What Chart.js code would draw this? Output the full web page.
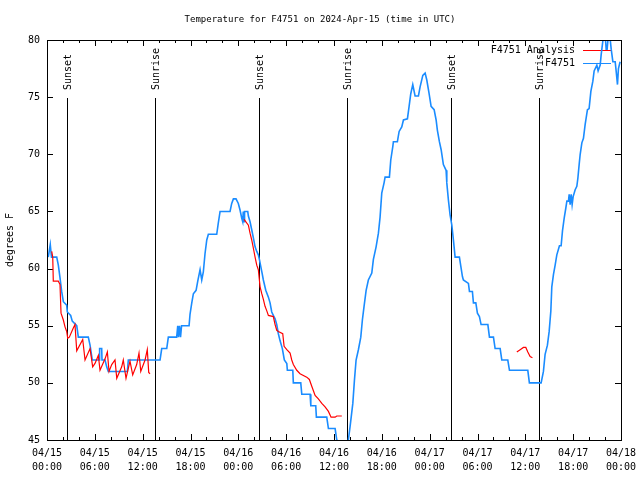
<!DOCTYPE html>
<html>
<head>
<meta charset="utf-8">
<script src="https://cdn.jsdelivr.net/npm/chart.js@4.4.1/dist/chart.umd.min.js"></script>
<style>
  html, body { margin: 0; padding: 0; background: #fff; }
  #chart { display: block; }
</style>
</head>
<body>
<canvas id="chart" width="640" height="480"></canvas>
<script>
// hours since 04/15 00:00 UTC, temperature in degrees F
const obsHours = [0.16,0.41,0.56,1.22,1.42,1.63,1.84,2.05,2.47,2.55,2.97,3.17,3.73,3.93,5.18,5.40,5.68,6.56,6.60,6.86,6.90,7.28,7.49,7.69,10.08,10.20,
  14.18,14.39,15.02,15.22,16.27,16.40,16.50,16.62,16.75,16.88,17.82,17.94,18.16,18.36,18.70,18.91,19.20,19.41,19.61,19.82,20.04,20.24,21.29,21.49,21.71,
  22.96,23.17,23.38,23.71,24.00,24.22,24.43,24.55,24.62,24.72,24.78,25.18,25.26,25.47,25.68,25.88,26.10,26.31,26.51,26.64,26.81,26.98,27.14,27.44,27.77,
  27.98,28.19,28.39,28.61,28.82,29.02,29.23,29.52,29.77,30.08,30.15,30.83,30.90,31.83,31.96,33.00,33.09,33.71,33.79,35.09,35.30,36.14,36.35,36.76,37.39,
  37.80,38.02,38.36,38.56,38.77,39.06,39.36,39.56,39.77,40.03,40.31,40.74,40.94,41.28,41.57,41.78,41.99,42.28,42.41,42.95,43.12,43.38,43.45,43.95,44.17,
  44.50,44.71,45.21,45.42,45.63,45.88,46.17,46.59,46.80,47.14,47.43,47.64,47.93,48.18,48.56,48.81,48.97,49.22,49.44,49.72,50.06,50.15,50.35,50.56,50.78,
  50.98,51.19,51.73,51.91,52.11,52.23,52.86,52.99,53.36,53.49,53.79,53.99,54.24,54.45,55.30,55.50,56.00,56.21,56.84,57.05,57.80,58.01,60.31,60.51,61.98,
  62.27,62.48,62.77,62.99,63.20,63.32,63.53,63.74,63.95,64.28,64.49,64.66,64.87,65.08,65.21,65.41,65.50,65.62,65.75,65.87,66.00,66.25,66.46,66.59,66.75,
  66.88,67.09,67.29,67.50,67.79,68.00,68.22,68.47,68.63,68.97,69.13,69.39,69.51,69.72,69.82,70.01,70.14,70.26,70.43,70.58,70.77,70.98,71.27,71.39,71.56,
  71.68,71.89];
const obsTemps = [61.0,62.1,61.0,61.0,60.3,59.2,58.0,57.1,56.8,56.2,55.9,55.4,55.0,54.0,54.0,53.3,52.0,52.0,53.0,53.0,52.0,52.0,51.4,51.0,51.0,52.0,
  52.0,53.0,53.0,54.0,54.0,55.0,54.0,55.0,54.0,55.0,55.0,56.0,57.0,57.8,58.1,58.9,59.9,59.0,59.7,61.3,62.5,63.0,63.0,64.0,65.0,
  65.0,65.7,66.1,66.1,65.7,65.1,64.4,64.1,65.0,64.1,65.0,65.0,64.6,64.1,63.4,62.7,61.9,61.5,61.2,60.8,60.2,59.6,59.0,58.1,57.5,
  57.0,56.2,55.9,55.6,55.1,54.3,53.7,53.0,52.0,51.7,51.1,51.1,50.0,50.0,49.0,49.0,48.0,48.0,47.0,47.0,46.0,46.0,45.0,44.0,44.0,
  45.0,46.2,48.2,50.2,52.0,52.9,54.0,55.5,56.7,58.1,59.0,59.6,60.8,61.9,63.1,64.5,66.6,67.5,68.0,68.0,69.5,70.7,71.1,71.1,72.0,
  72.4,73.0,73.1,74.2,75.3,76.1,75.1,75.1,75.9,76.9,77.1,76.5,75.3,74.2,73.9,73.0,72.1,71.1,70.4,69.1,68.6,67.5,66.0,64.7,63.8,
  62.5,61.0,61.0,60.2,59.3,59.0,58.7,58.0,58.0,57.0,57.0,56.1,55.8,55.1,55.1,54.0,54.0,53.0,53.0,52.0,52.0,51.1,51.1,50.0,50.0,
  51.0,52.5,53.3,54.5,56.3,58.4,59.5,60.3,61.2,62.0,62.0,63.3,64.4,65.3,65.9,65.9,66.5,65.6,66.5,65.6,66.3,66.9,67.2,67.9,69.1,
  70.0,71.0,71.4,72.6,73.9,74.0,75.5,76.4,77.3,77.8,77.3,77.8,78.7,79.9,80.5,80.5,79.2,79.2,80.5,80.5,79.2,78.1,78.1,77.3,76.1,
  77.5,78.1];

// analysis series, null marks a gap
const anaHours = [0.59,0.72,0.79,1.42,1.63,1.76,2.05,2.26,2.47,2.60,2.80,3.30,3.51,3.73,4.48,4.77,5.40,5.73,6.02,6.44,6.65,7.28,7.57,7.78,8.12,8.53,
  8.75,9.37,9.57,9.91,10.41,10.75,11.25,11.54,11.76,12.30,12.58,12.76,12.92,
  18.0,
  24.72,25.26,25.47,25.68,25.88,26.10,26.31,26.51,26.64,26.73,26.94,27.14,27.35,27.57,27.77,28.39,28.61,28.82,29.02,29.57,29.74,30.08,30.49,30.70,30.90,
  31.33,31.74,32.58,32.91,33.21,33.63,34.04,34.47,34.88,35.30,35.63,36.14,36.35,36.98,
  48.0,
  58.93,59.35,59.76,60.06,60.31,60.60,60.89];
const anaTemps = [61.5,61.0,58.9,58.9,58.6,56.1,55.5,54.9,54.5,53.9,54.0,54.8,55.1,52.8,53.8,52.0,53.0,51.4,51.7,52.4,51.1,52.1,52.7,51.0,51.6,52.0,
  50.4,51.4,52.0,50.4,51.9,50.7,51.6,52.6,51.0,52.0,52.9,50.9,50.8,
  null,
  64.3,63.8,63.1,62.5,61.8,61.0,60.3,59.9,59.0,58.4,57.8,57.3,56.7,56.3,55.9,55.8,55.1,54.6,54.5,54.3,53.2,52.9,52.6,52.0,51.6,
  51.1,50.8,50.5,50.3,49.7,48.9,48.6,48.2,47.9,47.5,47.0,47.0,47.1,47.1,
  null,
  52.7,52.9,53.1,53.1,52.7,52.3,52.2];

const sunHours = [2.5, 13.5, 26.6, 37.6, 50.7, 61.7];
const sunLabels = ['Sunset', 'Sunrise', 'Sunset', 'Sunrise', 'Sunset', 'Sunrise'];

const xDates = ['04/15','04/15','04/15','04/15','04/16','04/16','04/16','04/16','04/17','04/17','04/17','04/17','04/18'];
const xTimes = ['00:00','06:00','12:00','18:00','00:00','06:00','12:00','18:00','00:00','06:00','12:00','18:00','00:00'];

const TITLE = 'Temperature for F4751 on 2024-Apr-15 (time in UTC)';
const FONT = 'DejaVu Sans Mono';
const RED = '#ff0000';
const BLUE = '#1a8cff';

function pts(xs, ys) { return xs.map((x, i) => ({ x: x, y: ys[i] })); }

// gnuplot-like frame, inward ticks, sun lines, title and key
const gnuplotBits = {
  id: 'gnuplotBits',
  beforeDatasetsDraw(chart) {
    const { ctx, chartArea: a, scales: { x, y } } = chart;
    ctx.save();
    ctx.fillStyle = '#000';
    ctx.font = '9px "' + FONT + '"';
    ctx.textAlign = 'center';
    ctx.textBaseline = 'middle';
    ctx.fillText(TITLE, chart.width / 2, 20);

    ctx.strokeStyle = '#000';
    ctx.lineWidth = 1;
    ctx.beginPath();
    for (let h = 0; h <= 72; h += 2) {
      const px = Math.round(x.getPixelForValue(h)) + 0.5;
      const len = h % 6 === 0 ? 6 : 3;
      ctx.moveTo(px, a.bottom); ctx.lineTo(px, a.bottom - len);
      ctx.moveTo(px, a.top); ctx.lineTo(px, a.top + len);
    }
    for (let v = 45; v <= 80; v += 5) {
      const py = Math.round(y.getPixelForValue(v)) + 0.5;
      ctx.moveTo(a.left, py); ctx.lineTo(a.left + 6, py);
      ctx.moveTo(a.right, py); ctx.lineTo(a.right - 6, py);
    }
    ctx.stroke();

    ctx.font = '10px "' + FONT + '"';
    sunHours.forEach((h, i) => {
      const px = Math.round(x.getPixelForValue(h)) + 0.5;
      ctx.beginPath();
      ctx.moveTo(px, a.top + 58);
      ctx.lineTo(px, a.bottom);
      ctx.stroke();
      ctx.save();
      ctx.translate(px + 1, a.top + 50);
      ctx.rotate(-Math.PI / 2);
      ctx.textAlign = 'left';
      ctx.fillText(sunLabels[i], 0, 0);
      ctx.restore();
    });

    // key
    const keys = [['F4751 Analysis', RED], ['F4751', BLUE]];
    keys.forEach((k, i) => {
      const ky = a.top + 10 + i * 13;
      ctx.textAlign = 'right';
      ctx.fillStyle = '#000';
      ctx.fillText(k[0], a.right - 46, ky);
      ctx.strokeStyle = k[1];
      ctx.beginPath();
      ctx.moveTo(a.right - 38, ky + 0.5);
      ctx.lineTo(a.right - 10, ky + 0.5);
      ctx.stroke();
    });
    ctx.restore();
  },
  afterDatasetsDraw(chart) {
    const { ctx, chartArea: a } = chart;
    ctx.save();
    ctx.strokeStyle = '#000';
    ctx.lineWidth = 1;
    ctx.strokeRect(Math.round(a.left) + 0.5, Math.round(a.top) + 0.5,
      Math.round(a.right - a.left), Math.round(a.bottom - a.top));
    ctx.restore();
  }
};

new Chart(document.getElementById('chart').getContext('2d'), {
  type: 'line',
  data: {
    datasets: [
      { label: 'F4751 Analysis', data: pts(anaHours, anaTemps), borderColor: RED, borderWidth: 1.2,
        pointRadius: 0, spanGaps: false, tension: 0 },
      { label: 'F4751', data: pts(obsHours, obsTemps), borderColor: BLUE, borderWidth: 1.6,
        pointRadius: 0, tension: 0 }
    ]
  },
  options: {
    responsive: false,
    animation: false,
    events: [],
    layout: { padding: { left: 0, right: 19, top: 40, bottom: 0 } },
    plugins: {
      legend: { display: false },
      tooltip: { enabled: false },
      title: { display: false }
    },
    scales: {
      x: {
        type: 'linear', min: 0, max: 72,
        grid: { display: false, drawTicks: false },
        border: { display: false },
        ticks: {
          stepSize: 6, autoSkip: false, maxRotation: 0, padding: 6, color: '#000',
          font: { family: FONT, size: 10, lineHeight: 1.4 },
          callback: (v) => [xDates[v / 6], xTimes[v / 6]]
        },
        afterFit: (s) => { s.height = 40; s.paddingLeft = 0; s.paddingRight = 0; }
      },
      y: {
        min: 45, max: 80,
        grid: { display: false, drawTicks: false },
        border: { display: false },
        ticks: { stepSize: 5, padding: 7, color: '#000', font: { family: FONT, size: 10 } },
        title: {
          display: true, text: 'degrees F', color: '#000',
          font: { family: FONT, size: 10, lineHeight: 1.2 },
          padding: { top: 4, bottom: 0 }
        },
        afterFit: (s) => { s.width = 47; }
      }
    }
  },
  plugins: [gnuplotBits]
});
</script>
</body>
</html>
